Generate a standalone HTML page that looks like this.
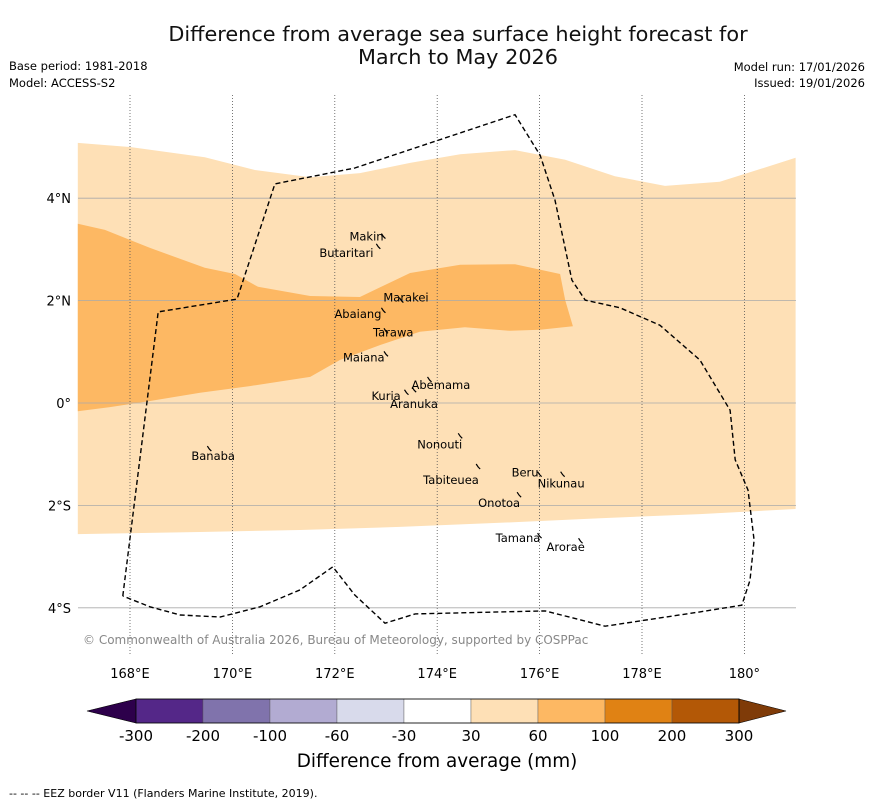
<!DOCTYPE html>
<html><head><meta charset="utf-8">
<style>
body{margin:0;background:#fff;font-family:"Liberation Sans","DejaVu Sans",sans-serif;}
svg text{font-family:"DejaVu Sans","Liberation Sans",sans-serif;}
</style></head>
<body>
<svg id="chart" width="873" height="804" viewBox="0 0 873 804" xmlns="http://www.w3.org/2000/svg">
<rect width="873" height="804" fill="#fff"/>
<text x="458" y="41" font-size="20.8" text-anchor="middle" fill="#111">Difference from average sea surface height forecast for</text>
<text x="458" y="64" font-size="20.8" text-anchor="middle" fill="#111">March to May 2026</text>
<text x="9" y="70" font-size="11.5">Base period: 1981-2018</text>
<text x="9" y="87" font-size="11.5">Model: ACCESS-S2</text>
<text x="865" y="71" font-size="11.5" text-anchor="end">Model run: 17/01/2026</text>
<text x="865" y="87" font-size="11.5" text-anchor="end">Issued: 19/01/2026</text>
<g id="map"></g>
<g id="cbar"></g>
<text x="437" y="767" font-size="18.4" text-anchor="middle">Difference from average (mm)</text>
<text x="9" y="797" font-size="11">--  --  -- EEZ border V11 (Flanders Marine Institute, 2019).</text>
</svg>
<script>
const NS="http://www.w3.org/2000/svg";
const lonTicks=[168,170,172,174,176,178,180];
const lonLabels=["168°E","170°E","172°E","174°E","176°E","178°E","180°"];
const latTicks=[4,2,0,-2,-4];
const latLabels=["4°N","2°N","0°","2°S","4°S"];
const lightLon=[166.98,168,169.46,170.44,171.52,172.49,173.47,174.45,175.52,176.5,177.47,178.45,179.52,181.0,181.0,179.13,177.18,175.23,173.27,171.32,169.37,166.98];
const lightLat=[5.08,5.0,4.8,4.55,4.41,4.49,4.69,4.86,4.94,4.75,4.43,4.24,4.32,4.79,-2.07,-2.17,-2.25,-2.34,-2.42,-2.48,-2.52,-2.56];
const darkLon=[166.98,167.51,168.39,169.46,170.05,170.5,171.52,172.49,173.47,174.45,175.52,176.4,176.5,176.65,176.01,175.42,174.54,173.66,172.88,172.1,171.52,170.34,169.37,168.39,167.61,166.98];
const darkLat=[3.5,3.38,3.03,2.64,2.52,2.27,2.09,2.07,2.54,2.7,2.71,2.52,2.01,1.5,1.43,1.41,1.48,1.39,1.13,0.84,0.51,0.33,0.2,0.04,-0.08,-0.16];
const eezLon=[167.86,168.55,170.09,170.83,172.39,175.52,176.01,176.3,176.63,176.89,177.57,178.35,179.13,179.72,179.82,180.07,180.19,180.11,179.95,179.13,177.28,176.11,173.57,172.98,172.39,171.96,171.32,170.54,169.76,168.98,168.39,167.86];
const eezLat=[-3.77,1.78,2.03,4.28,4.59,5.63,4.84,3.96,2.4,2.01,1.86,1.52,0.84,-0.14,-1.11,-1.7,-2.68,-3.46,-3.95,-4.08,-4.36,-4.06,-4.12,-4.3,-3.75,-3.2,-3.65,-3.98,-4.18,-4.14,-3.98,-3.77];
const islandNames=["Makin","Butaritari","Marakei","Abaiang","Tarawa","Maiana","Abemama","Kuria","Aranuka","Banaba","Nonouti","Tabiteuea","Beru","Nikunau","Onotoa","Tamana","Arorae"];
const islandLon=[172.95,172.85,173.3,172.95,173.0,173.0,173.85,173.4,173.55,169.55,174.45,174.8,176.0,176.45,175.6,176.0,176.8];
const islandLat=[3.25,3.05,2.0,1.8,1.4,0.95,0.45,0.2,0.25,-0.9,-0.65,-1.25,-1.4,-1.4,-1.8,-2.6,-2.7];
const labelDx=[-34,-59,-18,-49,-13,-43,-18,-35,-24,-18,-43,-55,-28,-25,-41,-44,-34];
const labelDy=[4,10,1,7,5,7,9,7,18,11,12,17,2,13,12,6,10];
const cbLevels=["-300","-200","-100","-60","-30","30","60","100","200","300"];
const cbColors=["#542788","#8073ac","#b2abd2","#d8daeb","#ffffff","#fee0b6","#fdb863","#e08214","#b35806"];
const cbLow="#2d004b", cbHigh="#7f3b08";

const x=lon=>130+(lon-168)*51.2;
const y=lat=>403-lat*51.2;
function mk(tag,attrs,parent){const e=document.createElementNS(NS,tag);for(const k in attrs)e.setAttribute(k,attrs[k]);parent.appendChild(e);return e;}
function pts(lo,la){return lo.map((v,i)=>x(v).toFixed(1)+","+y(la[i]).toFixed(1)).join(" ");}
const map=document.getElementById("map");
let e=mk("polygon",{points:pts(lightLon,lightLat),fill:"#fee0b6"},map);


e=mk("polygon",{points:pts(darkLon,darkLat),fill:"#fdb863"},map);


latTicks.forEach((t,i)=>{
  let l=mk("line",{x1:78,x2:796,y1:y(t),y2:y(t),stroke:"#aaa","stroke-width":0.8},map);
  
  
  let tx=mk("text",{x:71,y:y(t)+5,"font-size":13,"text-anchor":"end"},map);tx.textContent=latLabels[i];
  
  
});
lonTicks.forEach((t,i)=>{
  let l=mk("line",{x1:x(t),x2:x(t),y1:95,y2:655,stroke:"#555","stroke-width":0.8,"stroke-dasharray":"1,2"},map);
  
  
  let tx=mk("text",{x:x(t),y:678,"font-size":13,"text-anchor":"middle"},map);tx.textContent=lonLabels[i];
  
  
});
e=mk("polyline",{points:pts(eezLon,eezLat),fill:"none",stroke:"#000","stroke-width":1.4,"stroke-dasharray":"5,3"},map);


islandNames.forEach((n,i)=>{
  const px=x(islandLon[i]),py=y(islandLat[i]);
  let p=mk("path",{d:`M${px-2},${py-3} l2,3 l2,2`,stroke:"#000","stroke-width":1.2,fill:"none"},map);
  
  
  let tx=mk("text",{x:px+labelDx[i],y:py+labelDy[i],"font-size":11.5},map);tx.textContent=n;
  
  
});
e=mk("text",{x:83,y:644,"font-size":12,fill:"#888"},map);e.textContent="© Commonwealth of Australia 2026, Bureau of Meteorology, supported by COSPPac";


const cb=document.getElementById("cbar");
const cx0=136,cw=67,cy=699,ch=24;
e=mk("polygon",{points:`${cx0},${cy} 87,${cy+ch/2} ${cx0},${cy+ch}`,fill:cbLow,stroke:"#000","stroke-width":0.6},cb);


cbColors.forEach((c,i)=>{
  let r=mk("rect",{x:cx0+i*cw,y:cy,width:cw,height:ch,fill:c,stroke:"#555","stroke-width":0.4},cb);
  
  
});
const cEnd=cx0+cbColors.length*cw;
e=mk("polygon",{points:`${cEnd},${cy} 786,${cy+ch/2} ${cEnd},${cy+ch}`,fill:cbHigh,stroke:"#000","stroke-width":0.6},cb);


e=mk("rect",{x:cx0,y:cy,width:cEnd-cx0,height:ch,fill:"none",stroke:"#000","stroke-width":0.8},cb);


cbLevels.forEach((v,i)=>{
  let tx=mk("text",{x:cx0+i*cw,y:741,"font-size":15,"text-anchor":"middle"},cb);tx.textContent=v;
  
  
});
</script>
</body></html>
